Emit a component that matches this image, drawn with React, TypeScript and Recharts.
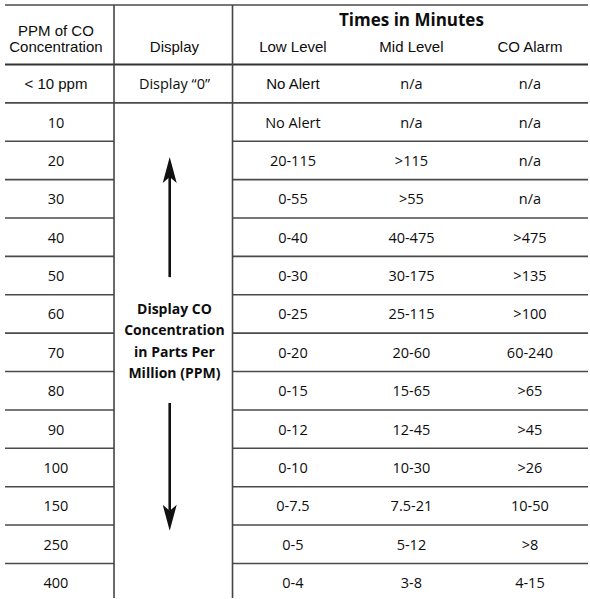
import React from 'react';
import { ScatterChart, Scatter, XAxis, YAxis, ReferenceLine } from 'recharts';

// ---- table content ----
const ppmLevels = ['< 10 ppm', '10', '20', '30', '40', '50', '60', '70', '80', '90', '100', '150', '250', '400'];
const displayValues = ['Display “0”'];
const lowLevel = ['No Alert', 'No Alert', '20-115', '0-55', '0-40', '0-30', '0-25', '0-20', '0-15', '0-12', '0-10', '0-7.5', '0-5', '0-4'];
const midLevel = ['n/a', 'n/a', '>115', '>55', '40-475', '30-175', '25-115', '20-60', '15-65', '12-45', '10-30', '7.5-21', '5-12', '3-8'];
const coAlarm = ['n/a', 'n/a', 'n/a', 'n/a', '>475', '>135', '>100', '60-240', '>65', '>45', '>26', '10-50', '>8', '4-15'];
const columnHeaders = [['PPM of CO', 'Concentration'], ['Display'], ['Low Level'], ['Mid Level'], ['CO Alarm']];
const groupTitle = 'Times in Minutes';
const mergedDisplayText = ['Display CO', 'Concentration', 'in Parts Per', 'Million (PPM)'];

// ---- layout (table units) ----
const W = 590;
const H = 599;
const X_DOMAIN: [number, number] = [-0.43, 4.49];
const Y_DOMAIN: [number, number] = [-2.05, 13.4];
const COL_EDGES = [0.49, 1.49];
const HEADER_Y = -0.97;
const TITLE_Y = -1.66;
const MERGED_Y = 6.68;
const ARROW_X = 0.96;
const UP_ARROW = [5.04, 1.91];
const DOWN_ARROW = [8.32, 11.65];

const bodyFont = "'Open Sans', 'DejaVu Sans', sans-serif";
const headFont = "'Liberation Sans', Arial, sans-serif";
const ink = '#0d0d0d';

const cellData = (values: string[], col: number) => values.map((v, i) => ({ x: col, y: i, label: v }));

const CellText = (props: any) => {
  const { cx, cy, payload } = props;
  const arial = payload.y === 0 && (payload.x === 0 || payload.x === 2);
  return (
    <text
      x={cx}
      y={cy}
      textAnchor="middle"
      dominantBaseline="central"
      fontFamily={arial ? headFont : bodyFont}
      fontSize={arial ? 15 : 14.5}
      fontWeight={arial ? 400 : 500}
      fill={ink}
    >
      {payload.label}
    </text>
  );
};

const HeaderText = (props: any) => {
  const { cx, cy, payload } = props;
  const lines: string[] = payload.lines;
  return (
    <text textAnchor="middle" dominantBaseline="central" fontFamily={headFont} fontSize={15} fill={ink}>
      {lines.map((l, k) => (
        <tspan key={k} x={cx} y={cy - (lines.length - 1 - k) * 16}>
          {l}
        </tspan>
      ))}
    </text>
  );
};

const TitleText = (props: any) => {
  const { cx, cy, payload } = props;
  return (
    <text x={cx} y={cy} textAnchor="middle" dominantBaseline="central" fontFamily={bodyFont} fontWeight={700} fontSize={17} fill={ink}>
      {payload.label}
    </text>
  );
};

const MergedText = (props: any) => {
  const { cx, cy, payload } = props;
  const lines: string[] = payload.lines;
  return (
    <text textAnchor="middle" dominantBaseline="central" fontFamily={bodyFont} fontWeight={700} fontSize={14} fill={ink}>
      {lines.map((l, k) => (
        <tspan key={k} x={cx} y={cy + (k - (lines.length - 1) / 2) * 21.5}>
          {l}
        </tspan>
      ))}
    </text>
  );
};

const ArrowShape = (props: any) => {
  const { x1, y1, x2, y2 } = props;
  const dir = y2 < y1 ? -1 : 1;
  const headLen = 26;
  const notch = 20;
  const halfW = 7;
  const baseY = y2 - dir * headLen;
  const notchY = y2 - dir * notch;
  return (
    <g>
      <line x1={x1} y1={y1} x2={x2} y2={notchY} stroke="#111" strokeWidth={2.6} />
      <path d={`M${x2},${y2} L${x2 - halfW},${baseY} L${x2},${notchY} L${x2 + halfW},${baseY} Z`} fill="#111" />
    </g>
  );
};

const rowBoundaries = ppmLevels.slice(1).map((_, i) => i + 0.5);

export default function App() {
  const lineColor = '#4a4a4a';
  return (
    <div style={{ position: 'absolute', left: 0, top: 0, width: W, height: H, background: '#fff' }}>
      <ScatterChart width={W} height={H} margin={{ top: 5, right: 2, bottom: 1, left: 5 }}>
        <XAxis type="number" dataKey="x" domain={X_DOMAIN} hide allowDataOverflow />
        <YAxis type="number" dataKey="y" domain={Y_DOMAIN} reversed hide allowDataOverflow />

        {/* top border */}
        <ReferenceLine
          ifOverflow="visible"
          segment={[{ x: X_DOMAIN[0], y: Y_DOMAIN[0] }, { x: X_DOMAIN[1], y: Y_DOMAIN[0] }]}
          stroke="#777"
          strokeWidth={2.2}
        />
        {/* header bottom */}
        <ReferenceLine
          ifOverflow="visible"
          segment={[{ x: X_DOMAIN[0], y: -0.5 }, { x: X_DOMAIN[1], y: -0.5 }]}
          stroke="#333"
          strokeWidth={2}
        />
        {rowBoundaries.map((b, i) =>
          i === 0 ? (
            <ReferenceLine
              key={`h${i}`}
              ifOverflow="visible"
              segment={[{ x: X_DOMAIN[0], y: b }, { x: X_DOMAIN[1], y: b }]}
              stroke={lineColor}
              strokeWidth={1.6}
            />
          ) : (
            <React.Fragment key={`h${i}`}>
              <ReferenceLine
                ifOverflow="visible"
                segment={[{ x: X_DOMAIN[0], y: b }, { x: COL_EDGES[0], y: b }]}
                stroke={lineColor}
                strokeWidth={1.6}
              />
              <ReferenceLine
                ifOverflow="visible"
                segment={[{ x: COL_EDGES[1], y: b }, { x: X_DOMAIN[1], y: b }]}
                stroke={lineColor}
                strokeWidth={1.6}
              />
            </React.Fragment>
          )
        )}
        {COL_EDGES.map((e, i) => (
          <ReferenceLine
            key={`v${i}`}
            ifOverflow="visible"
            segment={[{ x: e, y: Y_DOMAIN[0] }, { x: e, y: Y_DOMAIN[1] }]}
            stroke="#444"
            strokeWidth={1.6}
          />
        ))}
        <ReferenceLine
          ifOverflow="visible"
          segment={[{ x: ARROW_X, y: UP_ARROW[0] }, { x: ARROW_X, y: UP_ARROW[1] }]}
          shape={ArrowShape}
        />
        <ReferenceLine
          ifOverflow="visible"
          segment={[{ x: ARROW_X, y: DOWN_ARROW[0] }, { x: ARROW_X, y: DOWN_ARROW[1] }]}
          shape={ArrowShape}
        />

        <Scatter data={[{ x: 3, y: TITLE_Y, label: groupTitle }]} shape={TitleText} isAnimationActive={false} />
        <Scatter
          data={columnHeaders.map((lines, i) => ({ x: i, y: HEADER_Y, lines }))}
          shape={HeaderText}
          isAnimationActive={false}
        />
        <Scatter data={cellData(ppmLevels, 0)} shape={CellText} isAnimationActive={false} />
        <Scatter data={cellData(displayValues, 1)} shape={CellText} isAnimationActive={false} />
        <Scatter data={cellData(lowLevel, 2)} shape={CellText} isAnimationActive={false} />
        <Scatter data={cellData(midLevel, 3)} shape={CellText} isAnimationActive={false} />
        <Scatter data={cellData(coAlarm, 4)} shape={CellText} isAnimationActive={false} />
        <Scatter data={[{ x: 1, y: MERGED_Y, lines: mergedDisplayText }]} shape={MergedText} isAnimationActive={false} />
      </ScatterChart>
    </div>
  );
}
